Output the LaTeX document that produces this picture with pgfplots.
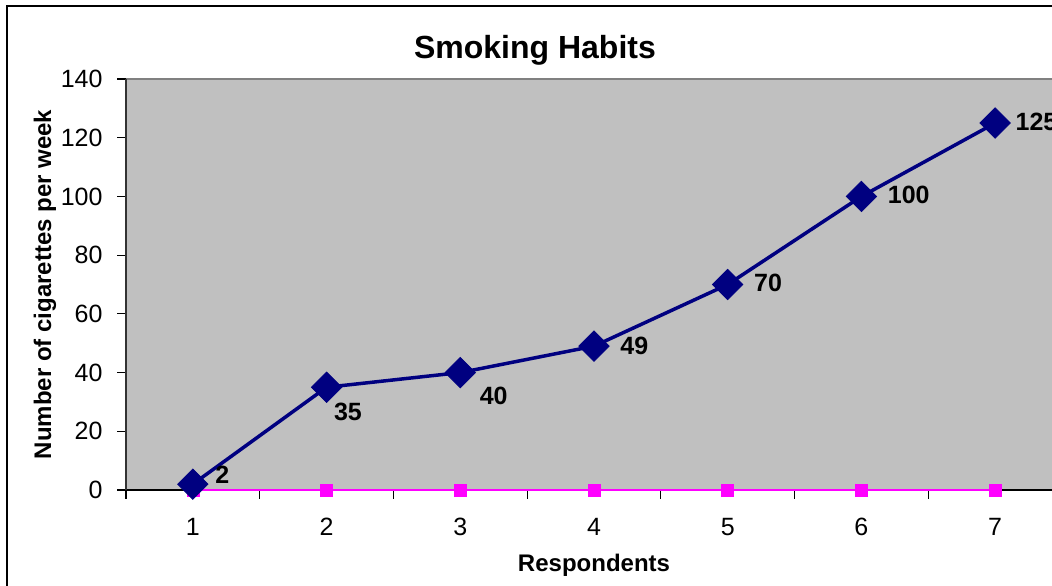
\documentclass[border=0pt]{standalone}
\usepackage{fontspec}
\setmainfont{Liberation Sans}
\usepackage{pgfplots}
\pgfplotsset{compat=1.18}
\definecolor{plotgray}{HTML}{C0C0C0}
\definecolor{bordergray}{HTML}{808080}
\definecolor{navyc}{HTML}{000080}
\definecolor{magc}{HTML}{FF00FF}
\begin{document}
\begin{tikzpicture}
\useasboundingbox (0pt,0pt) rectangle (420.8pt,234pt);
\clip (0pt,0pt) rectangle (420.8pt,234pt);
\fill[white] (0pt,0pt) rectangle (420.8pt,234pt);
\begin{axis}[
  at={(50.4pt,38pt)}, anchor=south west,
  width=374.4pt, height=164.4pt, scale only axis,
  xmin=0.5, xmax=7.5, ymin=0, ymax=140,
  clip=false,
  axis background/.style={fill=plotgray, draw=bordergray, line width=0.5pt},
  axis x line*=bottom, axis y line*=left,
  x axis line style={black, line width=0.5pt, -},
  y axis line style={black!80, line width=0.5pt, -},
  tick align=outside,
  major tick length=3.4pt,
  ytick={0,20,...,140},
  xtick={0.5,1.5,...,7.5},
  xticklabels={},
  extra x ticks={1,2,3,4,5,6,7},
  extra x tick labels={1,2,3,4,5,6,7},
  extra x tick style={major tick length=0pt, tick style={draw=none}},
  tick style={black, line width=0.5pt},
  ticklabel style={font=\fontsize{10pt}{12pt}\selectfont},
  /pgf/number format/assume math mode=true,
  yticklabel style={anchor=east, inner sep=0pt, xshift=-5.8pt},
  xticklabel style={anchor=north, inner sep=0pt, yshift=-11.2pt},
]
\addplot[magc, line width=1pt, mark=square*, mark size=2.4pt,
  mark options={solid, fill=magc, draw=magc, line width=0.2pt}]
  coordinates {(1,0) (2,0) (3,0) (4,0) (5,0) (6,0) (7,0)};
\addplot[navyc, line width=1.4pt, mark=square*, mark size=4.3pt,
  mark options={solid, rotate=45, fill=navyc, draw=navyc, line width=0.3pt}]
  coordinates {(1,2) (2,35) (3,40) (4,49) (5,70) (6,100) (7,125)};
\begin{scope}[every node/.style={font=\bfseries\fontsize{10pt}{12pt}\selectfont, anchor=west, inner sep=0pt}]
\node[xshift=8.8pt, yshift=3.6pt] at (axis cs:1,2) {2};
\node[xshift=2.8pt, yshift=-10pt] at (axis cs:2,35) {35};
\node[xshift=7.6pt, yshift=-9.4pt] at (axis cs:3,40) {40};
\node[xshift=10.4pt] at (axis cs:4,49) {49};
\node[xshift=10.4pt, yshift=0.8pt] at (axis cs:5,70) {70};
\node[xshift=10.4pt, yshift=0.8pt] at (axis cs:6,100) {100};
\node[xshift=8pt, yshift=0.4pt] at (axis cs:7,125) {125};
\end{scope}
\end{axis}
\node[anchor=base, font=\bfseries\fontsize{12.8pt}{15pt}\selectfont] at (214pt,210.8pt) {Smoking Habits};
\node[anchor=base, font=\bfseries\fontsize{9.6pt}{11pt}\selectfont] at (237.6pt,5.6pt) {Respondents};
\node[anchor=base, rotate=90, font=\bfseries\fontsize{9.6pt}{11pt}\selectfont] at (20.4pt,120.2pt) {Number of cigarettes per week};
\draw[black, line width=0.6pt] (2.8pt,-5pt) -- (2.8pt,231.6pt) -- (440pt,231.6pt);
\end{tikzpicture}
\end{document}
